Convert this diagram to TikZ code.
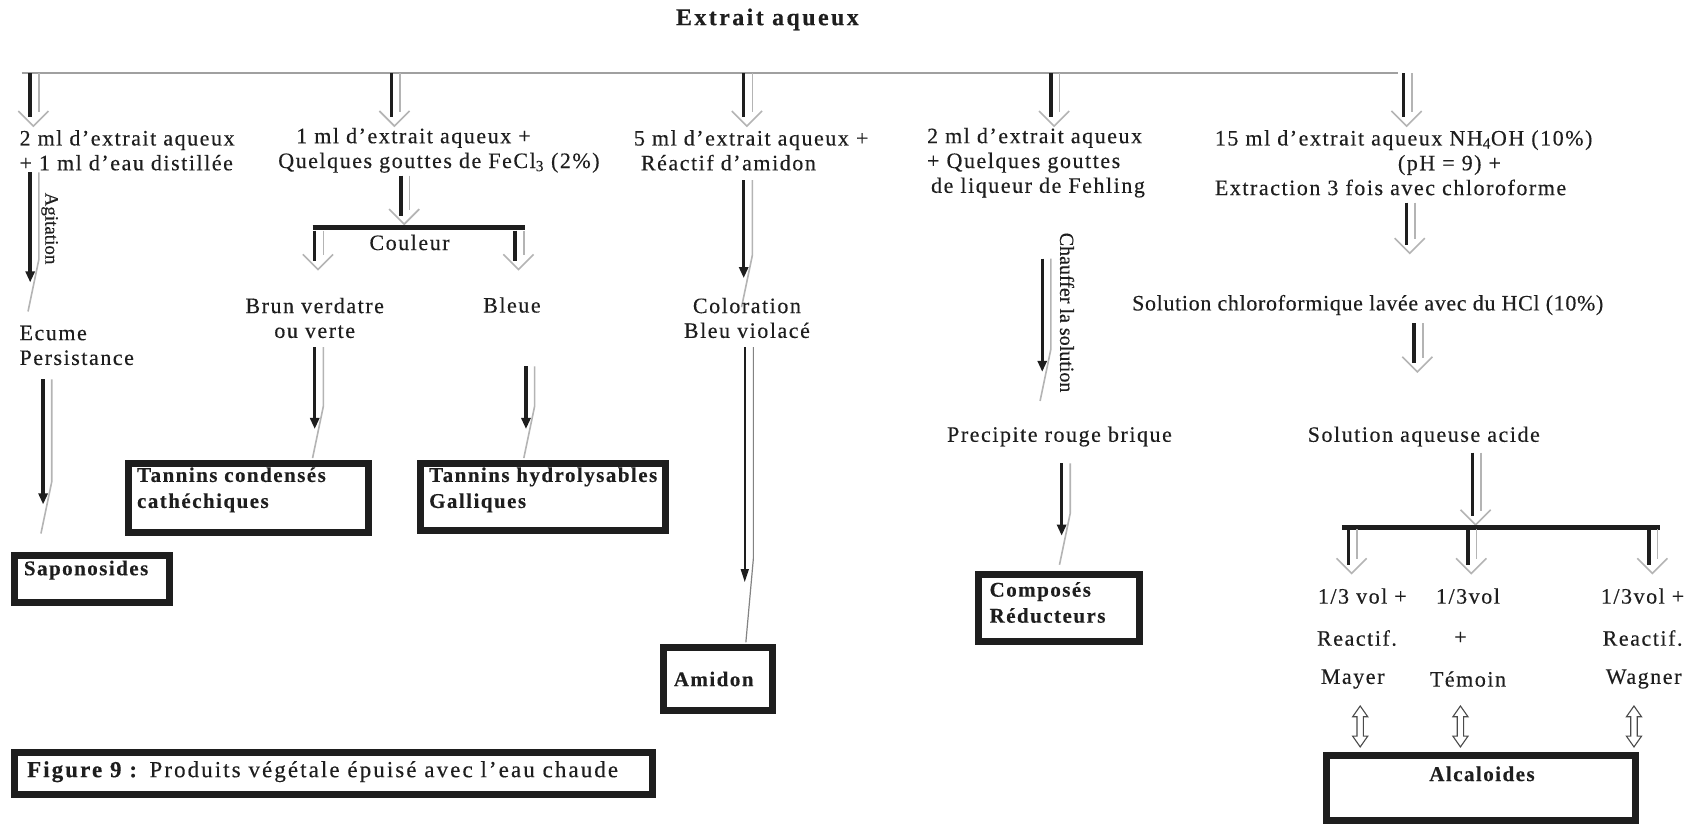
\documentclass[tikz,border=0pt]{standalone}
\usepackage{fontspec}
\setmainfont{Liberation Serif}[LetterSpace=7, FakeBold=0.3]
\usetikzlibrary{calc,arrows.meta,fit}
\definecolor{ink}{HTML}{1E1E1E}
\definecolor{rulegray}{HTML}{A0A0A0}
\definecolor{shadeg}{HTML}{B4B4B4}

% Word-style block arrow: black shaft edge, grey shaft edge, grey open head
\newcommand\blockarrow[2]{%
  \draw[stemline] (#1) -- ($(#2)+(0,-8)$);
  \draw[shadeline] ($(#1)+(8,0)$) -- ($(#2)+(8,-13)$);
  \draw[shadeline] ($(#2)+(-11,-14)$) -- ($(#2)+(3,0)$) -- ($(#2)+(17,-14)$);
}
% stretched version: black tip and a grey slash below it
\newcommand\lngarrow[2]{%
  \draw[stemline,-{Triangle[length=11pt,width=9pt]}] (#1) -- (#2);
  \draw[shadeline] ($(#1)+(8,0)$) -- ($(#2)+(8,-21)$) -- ($(#2)+(-2,27)$);
}
% hollow up-down arrow
\newcommand\bothway[1]{%
  \draw[ink!80, line width=1.1pt, fill=white] ($(#1)+(0,-19)$) -- ++(7,10) -- ++(-4,0)
    -- ++(0,18) -- ++(4,0) -- ++(-7,10) -- ++(-7,-10) -- ++(4,0) -- ++(0,-18)
    -- ++(-4,0) -- cycle;
}

\tikzset{
  txt/.style={inner sep=0pt, text=ink, align=left, font=\fontsize{22}{24.8}\selectfont},
  ctxt/.style={txt, align=center},
  btxt/.style={txt, font=\fontsize{21}{26}\selectfont\bfseries},
  box/.style={draw=ink, line width=7pt, inner sep=0pt},
  stemline/.style={draw=ink, line width=3.4pt},
  shadeline/.style={draw=shadeg, line width=1.6pt},
  bar/.style={draw=ink, line width=5pt},
}

\begin{document}
\begin{tikzpicture}[x=1.0778pt, y=-1.0778pt]
\useasboundingbox[fill=white] (0,0) rectangle (1568,764);

% title and distribution line
\node[btxt, font=\fontsize{24}{26}\selectfont\bfseries\addfontfeatures{LetterSpace=10}] (title) at (712,18) {Extrait aqueux};
\draw[rulegray, line width=1.6pt] (20,68) -- (1297,68);

% first row of preparations
\node[txt, anchor=west] (prepA) at (18,139.5) {2 ml d’extrait aqueux\\+ 1 ml d’eau distillée};
\node[txt, anchor=west] (prepB) at (258,139.5) {\hspace*{18pt}1 ml d’extrait aqueux +\\Quelques gouttes de FeCl\textsubscript{3} (2\%)};
\node[txt, anchor=west] (prepC) at (588,139.5) {5 ml d’extrait aqueux +\\\hspace*{7pt}Réactif d’amidon};
\node[txt, anchor=west] (prepD) at (860,151) {2 ml d’extrait aqueux\\+ Quelques gouttes\\\hspace*{4pt}de liqueur de Fehling};
\node[txt, anchor=west] (prepE) at (1127,151) {15 ml d’extrait aqueux NH\textsubscript{4}OH (10\%)\\\hspace*{183pt}(pH = 9) +\\Extraction 3 fois avec chloroforme};

\foreach \cx in {28,363,690,975,1302} {\blockarrow{\cx,68}{\cx,117}}

% saponosides
\lngarrow{28,160}{28,262}
\node[txt, rotate=-90, font=\fontsize{19}{20}\selectfont\addfontfeatures{LetterSpace=0}] (agit) at (46,212) {Agitation};
\node[txt, anchor=west] (ecume) at (18,320.5) {Ecume\\Persistance};
\lngarrow{40,352}{40,468}
\node[box, fit={(13,515) (157,559)}] (sapo) {};
\node[btxt, anchor=west] (sapoT) at (22,529) {Saponosides};

% tannins
\blockarrow{372,163}{372,208}
\draw[bar] (290,211) -- (487,211);
\node[txt] (coul) at (380,225) {Couleur};
\blockarrow{292,214}{292,250}
\blockarrow{478,214}{478,250}
\node[ctxt] (brun) at (292,295) {Brun verdatre\\ou verte};
\node[txt] (bleue) at (475,283) {Bleue};
\lngarrow{292,322}{292,398}
\lngarrow{488,340}{488,398}
\node[box, fit={(119,430) (342,494)}] (tcond) {};
\node[btxt, anchor=west] (tcondT) at (127,454.5) {Tannins condensés\\cathéchiques};
\node[box, fit={(390,430) (617,492)}] (thydr) {};
\node[btxt, anchor=west] (thydrT) at (398,454.5) {Tannins hydrolysables\\Galliques};

% amidon
\lngarrow{690,167}{690,258}
\node[ctxt] (colo) at (693,295) {Coloration\\Bleu violacé};
\draw[ink, line width=1.6pt, -{Triangle[length=13pt,width=8pt]}] (691,322) -- (691,540);
\draw[ink!55, line width=1.2pt] (699,322) -- (699,518) -- (692,596);
\node[box, fit={(616,601) (717,659)}] (amid) {};
\node[btxt, anchor=west] (amidT) at (625,630) {Amidon};

% reducing compounds
\lngarrow{967,240}{967,345}
\node[txt, rotate=-90, font=\fontsize{20}{22}\selectfont\addfontfeatures{LetterSpace=0}] (chauf) at (990,290) {Chauffer la solution};
\node[txt] (prec) at (983,405) {Precipite rouge brique};
\lngarrow{985,430}{985,497}
\node[box, fit={(908,533) (1057,595)}] (redu) {};
\node[btxt, anchor=west] (reduT) at (918,559) {Composés\\Réducteurs};

% alkaloids
\blockarrow{1305,188}{1305,235}
\node[txt, font=\fontsize{22}{24.8}\selectfont\addfontfeatures{LetterSpace=3}] (chlo) at (1269,283) {Solution chloroformique lavée avec du HCl (10\%)};
\blockarrow{1312,300}{1312,345}
\node[txt] (acid) at (1321,405) {Solution aqueuse acide};
\blockarrow{1366,420}{1366,487}
\draw[bar] (1245,489) -- (1540,489);
\foreach \cx in {1251,1362,1530} {\blockarrow{\cx,491}{\cx,532}}
\node[txt] (v1) at (1264,553) {1/3 vol +};
\node[txt] (v2) at (1362,553) {1/3vol};
\node[txt] (v3) at (1524,553) {1/3vol +};
\node[txt] (r1) at (1259,592) {Reactif.};
\node[txt] (r2) at (1355,592) {+};
\node[txt] (r3) at (1524,592) {Reactif.};
\node[txt] (m1) at (1255,630) {Mayer};
\node[txt] (m2) at (1362,630) {Témoin};
\node[txt] (m3) at (1525,630) {Wagner};
\bothway{1262,674}
\bothway{1355,674}
\bothway{1516,674}
\node[box, fit={(1231,701) (1517,761)}] (alca) {};
\node[btxt] (alcaT) at (1375,718) {Alcaloides};

% caption
\node[box, fit={(13,698) (605,737)}] (capbox) {};
\node[txt, anchor=west, font=\fontsize{23}{26}\selectfont\addfontfeatures{LetterSpace=9}] (cap) at (25,716) {\textbf{Figure 9 :} Produits végétale épuisé avec l’eau chaude};
\end{tikzpicture}
\end{document}
